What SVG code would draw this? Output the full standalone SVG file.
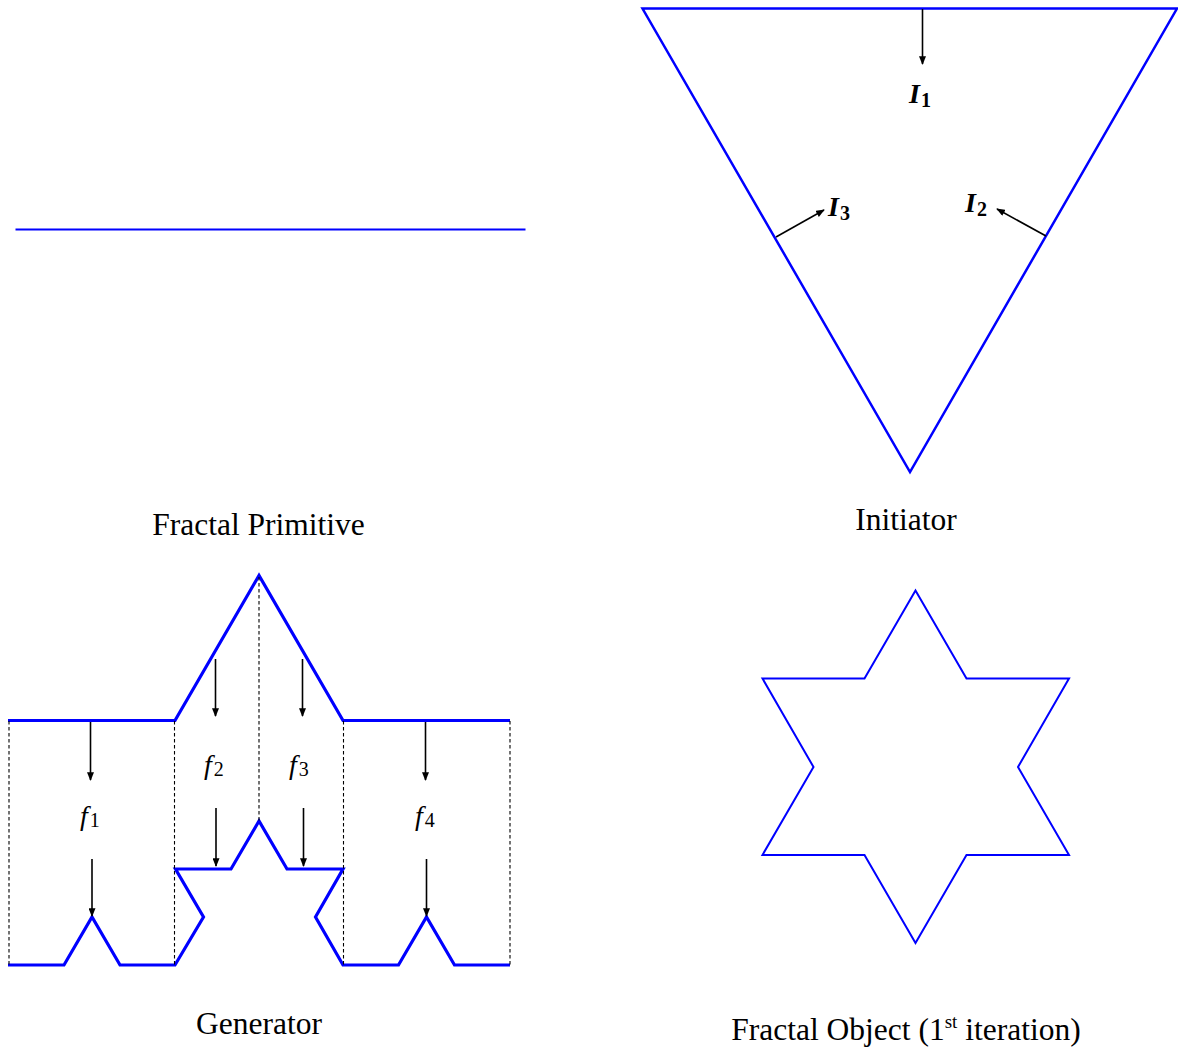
<svg xmlns="http://www.w3.org/2000/svg" width="1178" height="1049" viewBox="0 0 1178 1049">
<style>
.blue{fill:none;stroke:#0000ff;stroke-linejoin:miter}
.arr{stroke:#000;stroke-width:1.6;fill:none;marker-end:url(#ah)}
.dash{stroke:#000;stroke-width:1.1;stroke-dasharray:3.5 2.5;fill:none}
.cap{font-family:"Liberation Serif","Times New Roman",serif;font-size:31.5px;fill:#000;text-anchor:middle}
.lbI{font-family:"Liberation Serif","DejaVu Serif",serif;font-size:28px;font-weight:bold;font-style:italic;fill:#000}
.lbf{font-family:"Liberation Serif","DejaVu Serif",serif;font-size:28px;font-style:italic;fill:#000}
.sub{font-style:normal;font-size:20px}
</style>
<defs>
<marker id="ah" viewBox="0 0 10 8" refX="9" refY="4" markerWidth="9" markerHeight="7" markerUnits="userSpaceOnUse" orient="auto">
<path d="M0,0 L10,4 L0,8 Z" fill="#000"/>
</marker>
</defs>
<rect width="1178" height="1049" fill="#fff"/>

<g id="primitive">
<line class="blue" x1="15.5" y1="229.5" x2="525.5" y2="229.5" stroke-width="2.2"/>
<text class="cap" x="258.5" y="535">Fractal Primitive</text>
</g>

<g id="initiator">
<polygon class="blue" points="642.5,8.5 1177,8.5 910,472" stroke-width="2.5"/>
<text class="lbI" x="909" y="103">I<tspan class="sub" dy="4" dx="1">1</tspan></text>
<text class="lbI" x="828" y="216">I<tspan class="sub" dy="4" dx="1">3</tspan></text>
<text class="lbI" x="965" y="212">I<tspan class="sub" dy="4" dx="1">2</tspan></text>
<text class="cap" x="906" y="530">Initiator</text>
</g>

<g id="generator">
<path class="blue" stroke-width="3.2" d="M8,720.5 L175,720.5 L259,575.5 L343,720.5 L510,720.5"/>
<path class="blue" stroke-width="3.2" d="M8,965 L64,965 L92,917 L120,965 L175,965 L203.5,917 L175.5,869 L231,869 L259,821 L287,869 L343,869 L315.5,917 L343,965 L398.5,965 L426.5,917 L454.5,965 L510,965"/>
<text class="lbf" x="80" y="825">f<tspan class="sub" dy="2" dx="2">1</tspan></text>
<text class="lbf" x="204" y="774">f<tspan class="sub" dy="2" dx="2">2</tspan></text>
<text class="lbf" x="289" y="774">f<tspan class="sub" dy="2" dx="2">3</tspan></text>
<text class="lbf" x="415" y="825">f<tspan class="sub" dy="2" dx="2">4</tspan></text>
<text class="cap" x="259" y="1034">Generator</text>
</g>

<g id="fractal-object">
<polygon class="blue" stroke-width="2" points="915.5,590.5 966.5,678.5 1069,678.5 1018,767 1069,855 966.5,855 915.5,943 864.5,855 762.5,855 813.5,767 762.5,678.5 864.5,678.5"/>
<text class="cap" x="906" y="1040">Fractal Object (1<tspan font-size="19" dy="-12">st</tspan><tspan dy="12"> iteration)</tspan></text>
</g>

<g id="connectors">
<line class="arr" x1="922.5" y1="9" x2="922.5" y2="64"/>
<line class="arr" x1="776" y1="237" x2="824" y2="210"/>
<line class="arr" x1="1046" y1="236" x2="997" y2="209"/>
<line class="dash" x1="9" y1="721" x2="9" y2="965"/>
<line class="dash" x1="174.5" y1="721" x2="174.5" y2="965"/>
<line class="dash" x1="259" y1="577" x2="259" y2="821"/>
<line class="dash" x1="343.5" y1="721" x2="343.5" y2="965"/>
<line class="dash" x1="510" y1="721" x2="510" y2="965"/>
<line class="arr" x1="90.5" y1="722" x2="90.5" y2="780"/>
<line class="arr" x1="92" y1="859" x2="92" y2="916"/>
<line class="arr" x1="215.5" y1="659" x2="215.5" y2="716"/>
<line class="arr" x1="216" y1="808" x2="216" y2="866"/>
<line class="arr" x1="302.5" y1="659" x2="302.5" y2="716"/>
<line class="arr" x1="303.5" y1="808" x2="303.5" y2="866"/>
<line class="arr" x1="425.5" y1="722" x2="425.5" y2="780"/>
<line class="arr" x1="426.5" y1="859" x2="426.5" y2="916"/>
</g>
</svg>
